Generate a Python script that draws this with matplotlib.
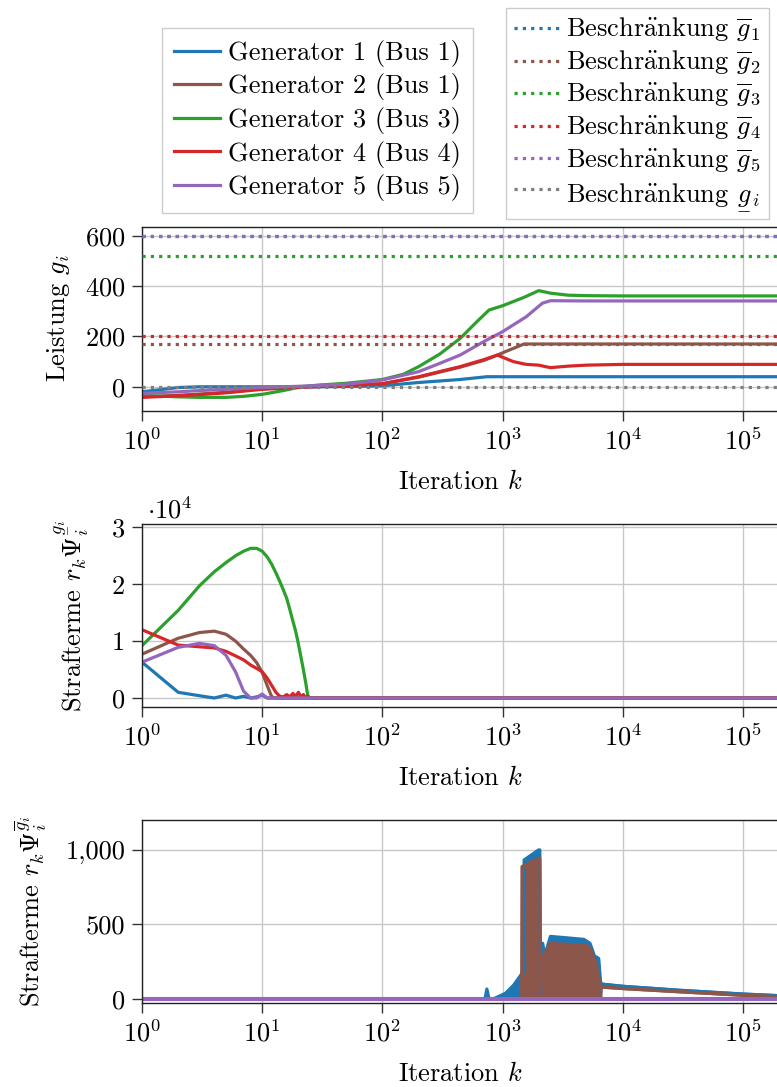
import matplotlib
matplotlib.use("Agg")
import matplotlib.pyplot as plt
from matplotlib.ticker import FuncFormatter, FixedLocator

plt.rcParams['font.family'] = ['cmr10', 'DejaVu Serif']
plt.rcParams['mathtext.fontset'] = 'cm'
plt.rcParams['axes.formatter.use_mathtext'] = True
plt.rcParams['font.size'] = 19

FS = 19
colors = ['#1f77b4', '#8c564b', '#2ca02c', '#d62728', '#9467bd']
gray = '#7f7f7f'
gen_labels = ['Generator 1 (Bus 1)', 'Generator 2 (Bus 1)', 'Generator 3 (Bus 3)',
              'Generator 4 (Bus 4)', 'Generator 5 (Bus 5)']
# cmr10 has no precomposed umlaut -> build it with mathtext
besch = r'Beschr$\ddot{\mathrm{a}}$nkung'
ulg = r'\underset{-}{g}'
bound_labels = [besch + r' $\overline{g}_1$', besch + r' $\overline{g}_2$',
                besch + r' $\overline{g}_3$', besch + r' $\overline{g}_4$',
                besch + r' $\overline{g}_5$', besch + r' $' + ulg + r'_i$']

# upper bounds (g1 hidden under g5 line in the original), lower bound
g_max = [600, 170, 520, 200, 600]
g_min = 0

# --- panel 1: Leistung g_i over iteration k
k_g1 = [1, 2, 3, 5, 10, 20, 50, 100, 200, 443, 741, 1000, 2000, 10000, 200000]
p_g1 = [-20, -3, 0, 0, 0, 0, 1, 4, 17, 29, 40, 40, 40, 40, 40]
k_g2 = [1, 2, 3, 5, 10, 20, 50, 100, 200, 443, 700, 834, 1000, 1507, 2000, 10000, 200000]
p_g2 = [-40, -34, -29, -22, -8, -1, 5, 12, 38, 78, 105, 119, 135, 170, 170, 170, 170]
k_g3 = [1, 2, 3, 5, 7, 10, 15, 21, 30, 50, 100, 150, 200, 300, 443, 600, 771, 1000,
        1500, 2000, 2500, 3500, 5000, 10000, 200000]
p_g3 = [-34, -40, -42, -42, -38, -30, -15, 0, 7, 14, 29, 50, 80, 130, 192, 255, 305, 322,
        355, 382, 372, 364, 362, 361, 361]
k_g4 = [1, 2, 3, 5, 10, 20, 50, 100, 200, 443, 700, 902, 1230, 1570, 1990, 2500, 3500,
        5000, 10000, 200000]
p_g4 = [-42, -36, -31, -24, -10, -2, 4, 12, 40, 80, 108, 126, 100, 89, 86, 76, 82, 86, 89, 89]
k_g5 = [1, 2, 3, 5, 10, 20, 50, 100, 200, 300, 443, 700, 1000, 1570, 2140, 2500, 5000, 200000]
p_g5 = [-26, -20, -15, -10, -3, 2, 10, 27, 60, 93, 126, 180, 219, 278, 332, 342, 341, 341]

# --- panel 2: penalty terms lower bound (in units of 1e4)
k_s = list(range(1, 26)) + [30, 200000]
s_g1 = [0.63, 0.10, 0.04, 0.0, 0.05, 0.0, 0.03, 0.0, 0.02, 0.05, 0.0, 0, 0, 0, 0, 0, 0,
        0, 0, 0, 0, 0, 0, 0, 0, 0, 0]
s_g2 = [0.77, 1.05, 1.15, 1.175, 1.12, 1.0, 0.86, 0.75, 0.62, 0.45, 0.22, 0.02, 0, 0, 0,
        0, 0, 0, 0, 0, 0, 0, 0, 0, 0, 0, 0]
s_g3 = [0.92, 1.54, 1.97, 2.22, 2.38, 2.5, 2.58, 2.63, 2.63, 2.58, 2.48, 2.35, 2.2, 2.05,
        1.9, 1.75, 1.55, 1.35, 1.17, 0.95, 0.72, 0.5, 0.27, 0.03, 0, 0, 0]
s_g4 = [1.2, 0.93, 0.9, 0.88, 0.82, 0.74, 0.67, 0.58, 0.52, 0.46, 0.35, 0.22, 0.1, 0.03,
        0.02, 0.06, 0.02, 0.08, 0.03, 0.1, 0.02, 0.06, 0.01, 0.03, 0, 0, 0]
s_g5 = [0.63, 0.89, 0.96, 0.92, 0.75, 0.46, 0.12, 0.0, 0.0, 0.07, 0, 0, 0, 0, 0, 0, 0,
        0, 0, 0, 0, 0, 0, 0, 0, 0, 0]

# --- panel 3: penalty terms upper bound, oscillating -> envelopes
k_u1 = [1, 713, 740, 771, 834, 1057, 1238, 1450, 1500, 1510, 1990, 2040, 2070, 2150, 2200,
        2300, 2500, 3460, 4750, 5340, 5800, 6300, 6550, 6600, 10000, 30000, 100000, 200000]
u1_hi = [0, 0, 67, 0, 0, 38, 94, 172, 180, 933, 1000, 1000, 50, 374, 330, 322, 420, 410,
         400, 373, 290, 272, 105, 100, 85, 58, 33, 22]
u1_lo = [0, 0, 0, 0, 0, 0, 0, 0, 0, 0, 0, 0, 0, 0, 0, 0, 0, 0, 0, 0, 0, 0, 0, 100, 85, 58, 33, 22]
k_u2 = [1, 1440, 1450, 1990, 2040, 2070, 2150, 2500, 5000, 5340, 6000, 6500, 6600, 10000,
        30000, 100000, 200000]
u2_hi = [0, 0, 888, 944, 944, 60, 283, 372, 360, 340, 240, 83, 80, 70, 48, 25, 15]
u2_lo = [0, 0, 0, 0, 0, 0, 0, 0, 0, 0, 0, 0, 80, 70, 48, 25, 15]
k_u0 = [1, 200000]
u0 = [0, 0]

W, H = 777, 1087
fig = plt.figure(figsize=(W / 100, H / 100), dpi=100)
left = 142 / W
width = 637.2 / W


def make_ax(top, bottom):
    ax = fig.add_axes([left, 1 - bottom / H, width, (bottom - top) / H])
    ax.set_xscale('log')
    ax.set_xlim(1, 2e5)
    ax.xaxis.set_major_locator(FixedLocator([1, 10, 100, 1e3, 1e4, 1e5]))
    ax.xaxis.set_minor_locator(FixedLocator([]))
    ax.grid(True, color='#c8c8c8', lw=1.0)
    ax.set_axisbelow(True)
    for s in ax.spines.values():
        s.set_color('#222222')
        s.set_linewidth(1.0)
    ax.tick_params(direction='out', length=7, width=1, color='#333333', labelsize=FS, pad=5)
    ax.set_xlabel('Iteration $k$', fontsize=FS, labelpad=11)
    return ax


lw = 2.3
dot = (0, (1, 1.6))

# panel 1
ax1 = make_ax(226.7, 410.7)
gens = [(k_g1, p_g1), (k_g2, p_g2), (k_g3, p_g3), (k_g4, p_g4), (k_g5, p_g5)]
gen_handles = []
for (kk, pp), c, lab in zip(gens, colors, gen_labels):
    h, = ax1.plot(kk, pp, color=c, lw=lw, label=lab)
    gen_handles.append(h)
bound_handles = []
for gm, c, lab in zip(g_max, colors, bound_labels):
    h = ax1.axhline(gm, color=c, lw=lw, ls=dot, label=lab, zorder=3)
    bound_handles.append(h)
h = ax1.axhline(g_min, color=gray, lw=lw, ls=dot, label=bound_labels[-1], zorder=3)
bound_handles.append(h)
ax1.set_ylim(-95, 636)
ax1.set_yticks([0, 200, 400, 600])
ax1.set_ylabel('Leistung $g_i$', fontsize=FS, labelpad=9)

# panel 2
ax2 = make_ax(524, 706.7)
for s, c in zip([s_g1, s_g2, s_g3, s_g4, s_g5], colors):
    ax2.plot(k_s, [v * 1e4 for v in s], color=c, lw=lw)
ax2.set_ylim(-1530, 30580)
ax2.set_yticks([0, 1e4, 2e4, 3e4])
ax2.yaxis.set_major_formatter(FuncFormatter(lambda v, p: '%d' % round(v / 1e4)))
ax2.text(0.008, 1.0, r'$\cdot 10^4$', transform=ax2.transAxes, fontsize=FS,
         ha='left', va='bottom')
ax2.set_ylabel(r'Strafterme $r_k\Psi_i^{' + ulg + r'_i}$', fontsize=FS, labelpad=15)

# panel 3
ax3 = make_ax(820, 1003)
for kk, hi, lo, c in [(k_u1, u1_hi, u1_lo, colors[0]), (k_u2, u2_hi, u2_lo, colors[1])]:
    ax3.fill_between(kk, lo, hi, color=c, lw=0)
    ax3.plot(kk, hi, color=c, lw=lw)
    ax3.plot(kk, lo, color=c, lw=lw)
for c in colors[2:]:
    ax3.plot(k_u0, u0, color=c, lw=lw + 0.6)
ax3.set_ylim(-27, 1201)
ax3.set_yticks([0, 500, 1000])
ax3.yaxis.set_major_formatter(FuncFormatter(lambda v, p: '{:,}'.format(int(v))))
ax3.set_ylabel(r'Strafterme $r_k\Psi_i^{\overline{g}_i}$', fontsize=FS, labelpad=12)

leg_kw = dict(loc='upper left', borderaxespad=0, fancybox=False, framealpha=1,
              edgecolor='#cccccc', handlelength=1.75, fontsize=FS)
leg1 = fig.legend(gen_handles, gen_labels, bbox_to_anchor=(162 / W, 1 - 28 / H),
                  handletextpad=0.3, labelspacing=0.25, borderpad=0.45, **leg_kw)
leg2 = fig.legend(bound_handles, bound_labels, bbox_to_anchor=(506 / W, 1 - 8 / H),
                  handletextpad=0.22, labelspacing=0.17, borderpad=0.3, **leg_kw)
for leg in (leg1, leg2):
    leg.get_frame().set_linewidth(1.0)

fig.savefig('out.png', dpi=100)
